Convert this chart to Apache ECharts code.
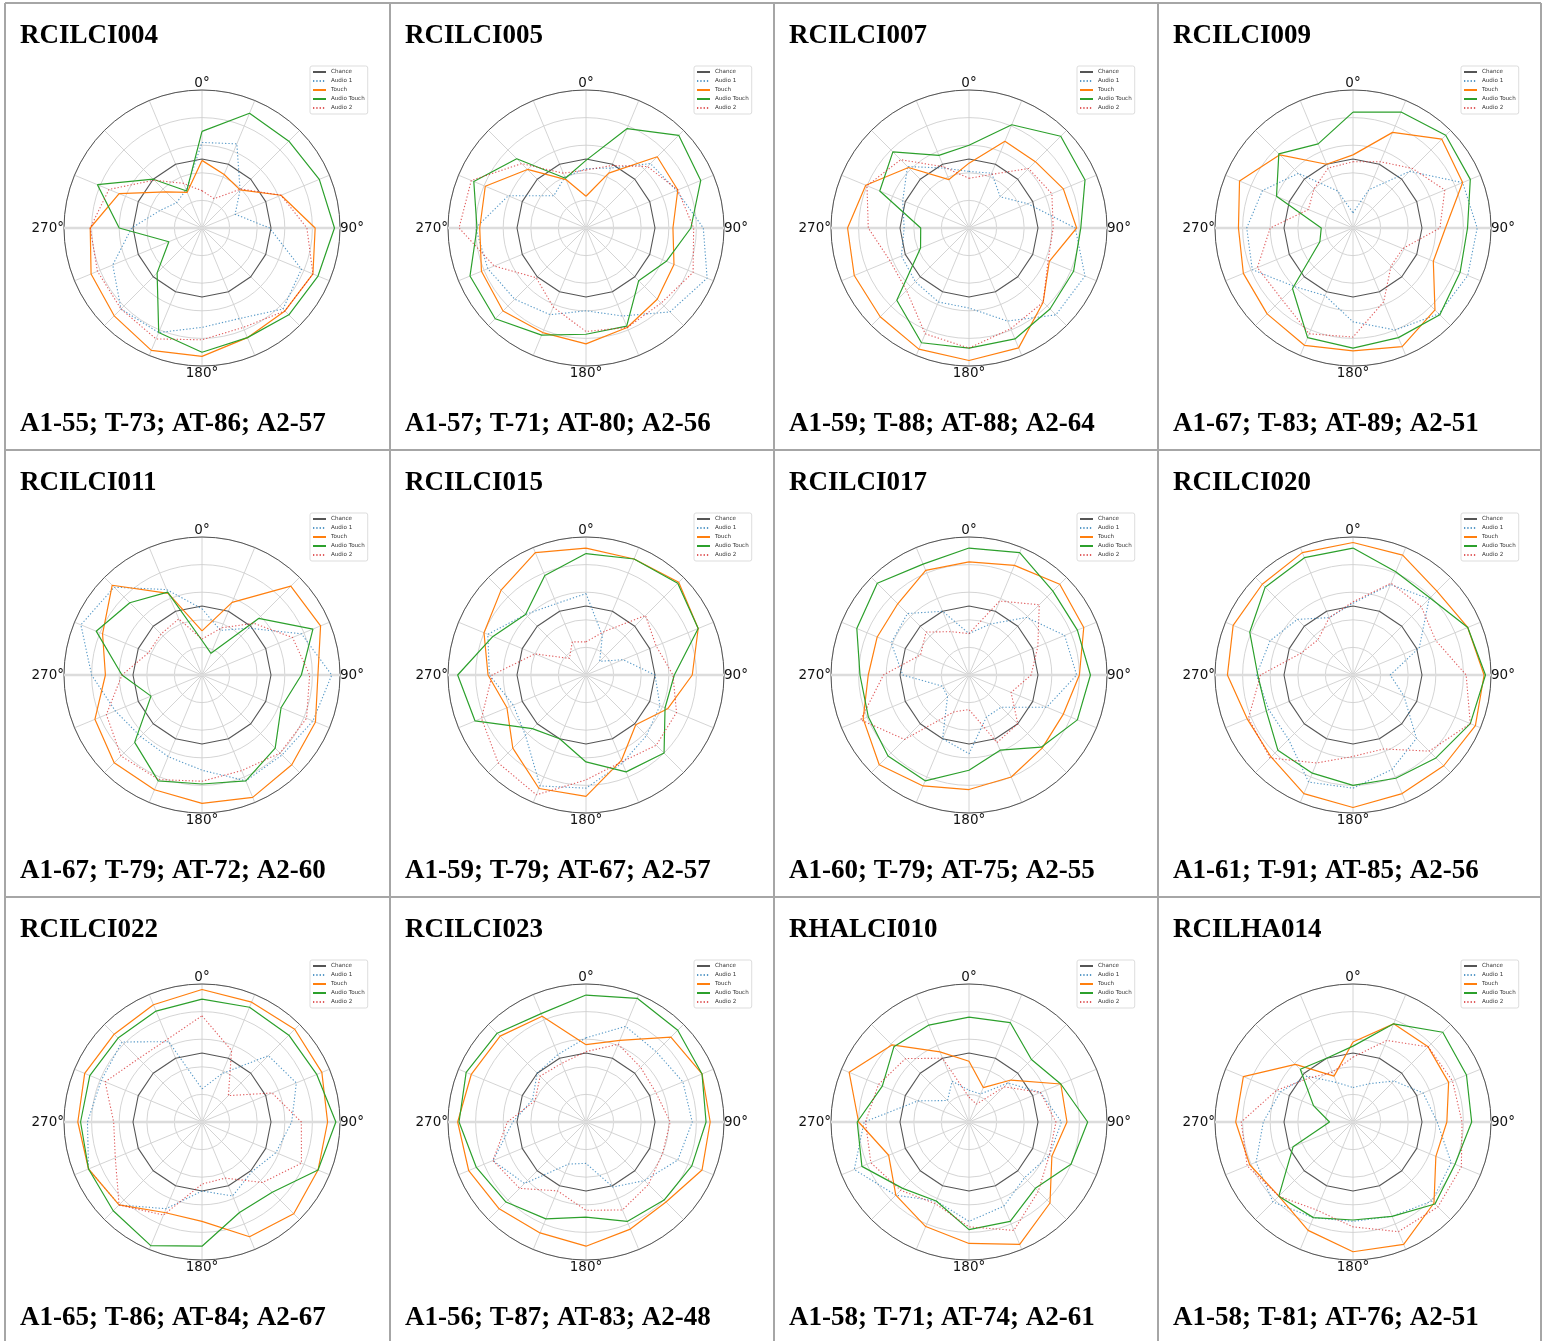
<!DOCTYPE html>
<html>
<head>
<meta charset="utf-8">
<script src="https://cdn.jsdelivr.net/npm/echarts@6/dist/echarts.min.js"></script>
<style>
html,body{margin:0;padding:0;background:#fff;}
#main{width:1545px;height:1341px;}
</style>
</head>
<body>
<div id="main"></div>
<script>
// ---- data ----
const angles = [0,22.5,45,67.5,90,112.5,135,157.5,180,202.5,225,247.5,270,292.5,315,337.5];
const angleTickLabels = ['0°','90°','180°','270°'];
const panelNames = ['RCILCI004','RCILCI005','RCILCI007','RCILCI009',
                    'RCILCI011','RCILCI015','RCILCI017','RCILCI020',
                    'RCILCI022','RCILCI023','RHALCI010','RCILHA014'];
const a1Score = [55,57,59,67,67,59,60,61,65,56,58,58];
const tScore  = [73,71,88,83,79,79,79,91,86,87,71,81];
const atScore = [86,80,88,89,72,67,75,85,84,83,74,76];
const a2Score = [57,56,64,51,60,57,55,56,67,48,61,51];
const seriesNames = ['Chance','Audio 1','Touch','Audio Touch','Audio 2'];

const chance = [0.5,0.5,0.5,0.5,0.5,0.5,0.5,0.5,0.5,0.5,0.5,0.5,0.5,0.5,0.5,0.5];

const audio1 = [
 [0.62,0.66,0.39,0.26,0.49,0.78,0.83,0.71,0.72,0.82,0.83,0.70,0.51,0.33,0.26,0.30],
 [0.43,0.47,0.66,0.71,0.85,0.95,0.86,0.69,0.60,0.68,0.73,0.77,0.80,0.61,0.33,0.40],
 [0.41,0.43,0.32,0.46,0.77,0.91,0.89,0.73,0.58,0.58,0.55,0.53,0.47,0.52,0.63,0.47],
 [0.11,0.30,0.58,0.86,0.90,0.90,0.88,0.80,0.68,0.53,0.60,0.79,0.77,0.71,0.56,0.29],
 [0.48,0.35,0.48,0.78,0.94,0.87,0.82,0.83,0.69,0.64,0.63,0.68,0.80,0.95,0.90,0.67],
 [0.59,0.31,0.14,0.29,0.50,0.58,0.62,0.69,0.82,0.87,0.62,0.57,0.70,0.77,0.62,0.56],
 [0.30,0.40,0.59,0.75,0.78,0.61,0.33,0.33,0.57,0.50,0.22,0.21,0.48,0.61,0.63,0.50],
 [0.52,0.71,0.78,0.52,0.27,0.40,0.65,0.74,0.82,0.84,0.66,0.66,0.70,0.65,0.57,0.45],
 [0.24,0.38,0.68,0.74,0.65,0.58,0.51,0.58,0.50,0.68,0.85,0.89,0.83,0.79,0.82,0.63],
 [0.61,0.75,0.72,0.76,0.77,0.72,0.60,0.51,0.30,0.33,0.63,0.73,0.53,0.42,0.50,0.53],
 [0.23,0.22,0.40,0.56,0.67,0.63,0.57,0.66,0.72,0.62,0.75,0.90,0.76,0.40,0.22,0.32],
 [0.25,0.30,0.42,0.55,0.61,0.77,0.81,0.74,0.72,0.75,0.82,0.76,0.65,0.57,0.47,0.31]
];
const touch = [
 [0.49,0.42,0.39,0.62,0.82,0.87,0.85,0.86,0.93,0.96,0.90,0.87,0.81,0.65,0.37,0.28],
 [0.23,0.43,0.73,0.72,0.63,0.69,0.73,0.78,0.84,0.82,0.85,0.82,0.77,0.79,0.60,0.38],
 [0.47,0.68,0.68,0.74,0.78,0.63,0.76,0.94,0.96,0.95,0.91,0.90,0.88,0.81,0.62,0.38],
 [0.53,0.75,0.91,0.86,0.67,0.63,0.84,0.93,0.89,0.92,0.88,0.86,0.83,0.89,0.75,0.50],
 [0.32,0.57,0.91,0.93,0.84,0.89,0.92,0.96,0.93,0.90,0.90,0.84,0.70,0.78,0.92,0.64],
 [0.92,0.91,0.95,0.88,0.77,0.64,0.51,0.67,0.88,0.89,0.75,0.62,0.71,0.80,0.87,0.96],
 [0.82,0.86,0.93,0.90,0.80,0.74,0.75,0.80,0.83,0.87,0.92,0.83,0.73,0.72,0.73,0.82],
 [0.96,0.94,0.86,0.90,0.95,0.96,0.93,0.93,0.96,0.93,0.84,0.83,0.91,0.94,0.93,0.96],
 [0.96,0.94,0.95,0.94,0.91,0.91,0.94,0.90,0.72,0.71,0.85,0.89,0.90,0.92,0.90,0.92],
 [0.56,0.64,0.87,0.91,0.90,0.91,0.82,0.84,0.90,0.87,0.89,0.92,0.93,0.90,0.88,0.83],
 [0.44,0.27,0.43,0.72,0.71,0.65,0.83,0.96,0.88,0.82,0.75,0.63,0.80,0.94,0.79,0.55],
 [0.58,0.77,0.77,0.75,0.68,0.65,0.83,0.96,0.94,0.85,0.76,0.81,0.85,0.86,0.59,0.36]
];
const audioTouch = [
 [0.70,0.90,0.89,0.92,0.96,0.91,0.89,0.86,0.90,0.82,0.46,0.26,0.60,0.82,0.50,0.29],
 [0.49,0.78,0.95,0.90,0.76,0.63,0.54,0.77,0.77,0.84,0.93,0.91,0.79,0.88,0.71,0.39],
 [0.60,0.81,0.94,0.91,0.81,0.82,0.83,0.87,0.87,0.90,0.74,0.38,0.35,0.70,0.78,0.57],
 [0.84,0.91,0.95,0.92,0.83,0.84,0.89,0.86,0.87,0.86,0.62,0.26,0.23,0.60,0.76,0.66],
 [0.25,0.17,0.58,0.87,0.72,0.62,0.75,0.83,0.79,0.83,0.69,0.40,0.58,0.83,0.74,0.65],
 [0.88,0.91,0.94,0.88,0.64,0.62,0.80,0.76,0.63,0.50,0.55,0.87,0.93,0.73,0.62,0.78],
 [0.92,0.96,0.86,0.85,0.88,0.85,0.74,0.59,0.69,0.83,0.83,0.79,0.79,0.88,0.94,0.87],
 [0.92,0.81,0.79,0.90,0.96,0.92,0.85,0.81,0.80,0.77,0.77,0.68,0.69,0.81,0.90,0.92],
 [0.89,0.90,0.89,0.90,0.97,0.91,0.72,0.71,0.90,0.97,0.91,0.89,0.88,0.88,0.86,0.87],
 [0.92,0.97,0.94,0.91,0.87,0.83,0.80,0.78,0.69,0.76,0.82,0.86,0.92,0.94,0.91,0.85],
 [0.76,0.78,0.64,0.72,0.86,0.80,0.68,0.78,0.78,0.62,0.68,0.84,0.81,0.68,0.77,0.76],
 [0.55,0.77,0.92,0.89,0.86,0.80,0.84,0.74,0.71,0.75,0.76,0.47,0.17,0.31,0.54,0.50]
];
const audio2 = [
 [0.27,0.23,0.40,0.62,0.76,0.87,0.85,0.78,0.81,0.87,0.83,0.82,0.81,0.73,0.49,0.35],
 [0.42,0.49,0.63,0.72,0.78,0.84,0.77,0.78,0.75,0.62,0.51,0.72,0.92,0.90,0.66,0.43],
 [0.36,0.42,0.61,0.65,0.61,0.62,0.76,0.79,0.87,0.83,0.64,0.62,0.73,0.80,0.70,0.48],
 [0.48,0.52,0.61,0.72,0.63,0.39,0.39,0.58,0.79,0.83,0.73,0.75,0.60,0.35,0.40,0.47],
 [0.26,0.37,0.53,0.71,0.78,0.82,0.80,0.75,0.77,0.82,0.83,0.75,0.58,0.42,0.42,0.44],
 [0.24,0.34,0.61,0.55,0.63,0.71,0.72,0.68,0.76,0.94,0.90,0.82,0.68,0.40,0.17,0.26],
 [0.30,0.58,0.72,0.54,0.45,0.33,0.50,0.53,0.25,0.29,0.66,0.85,0.62,0.38,0.44,0.34],
 [0.53,0.72,0.70,0.65,0.82,0.92,0.78,0.58,0.59,0.69,0.85,0.82,0.67,0.41,0.36,0.45],
 [0.77,0.56,0.27,0.55,0.72,0.78,0.62,0.44,0.45,0.73,0.85,0.68,0.64,0.76,0.65,0.65],
 [0.51,0.61,0.56,0.55,0.61,0.60,0.64,0.69,0.64,0.54,0.68,0.73,0.57,0.40,0.47,0.46],
 [0.18,0.14,0.36,0.56,0.63,0.63,0.71,0.85,0.76,0.64,0.70,0.77,0.75,0.71,0.65,0.50],
 [0.47,0.64,0.77,0.78,0.79,0.85,0.87,0.86,0.76,0.69,0.76,0.83,0.81,0.60,0.45,0.39]
];

// ---- layout ----
const colX = [202, 586, 969, 1353];
const rowY = [228, 675, 1122];
const cellLeft = [5, 390, 774, 1158];
const rowTop = [3, 450, 897];
const R = 138;

const styles = {
  'Chance':      {color:'#555555', type:'solid', width:1.1, opacity:1},
  'Audio 1':     {color:'#1f77b4', type:[1.3,2], width:1.1, opacity:0.75},
  'Touch':       {color:'#ff7f0e', type:'solid', width:1.2, opacity:1},
  'Audio Touch': {color:'#2ca02c', type:'solid', width:1.2, opacity:1},
  'Audio 2':     {color:'#d62728', type:[1.3,2], width:1.1, opacity:0.75}
};

function closed(vals){
  const d = angles.map((a,k)=>[vals[k], a]);
  d.push([vals[0], 360]);
  return d;
}

const polar=[], angleAxis=[], radiusAxis=[], series=[], legend=[], graphic=[];

for (let i=0;i<12;i++){
  const r = Math.floor(i/4), c = i%4;
  const cx = colX[c], cy = rowY[r];
  polar.push({center:[cx,cy], radius:R});
  angleAxis.push({
    polarIndex:i, type:'value', min:0, max:360, interval:22.5,
    startAngle:90, clockwise:true,
    axisLine:{show:true, lineStyle:{color:'#555', width:1}},
    axisTick:{show:false},
    axisLabel:{show:true, margin:0, fontSize:13.5, color:'#111', fontFamily:'DejaVu Sans',
      formatter:function(v){ const idx = [0,90,180,270].indexOf(v); return idx>=0 ? angleTickLabels[idx] : ''; }},
    splitLine:{show:true, lineStyle:{color:'#cfcfcf', width:0.9}}
  });
  radiusAxis.push({
    polarIndex:i, type:'value', min:0, max:1, interval:0.2,
    axisLine:{show:false}, axisTick:{show:false}, axisLabel:{show:false},
    splitLine:{show:true, lineStyle:{color:'#cfcfcf', width:0.9}}
  });
  const dataSets = [chance, audio1[i], touch[i], audioTouch[i], audio2[i]];
  seriesNames.forEach((nm, s)=>{
    const st = styles[nm];
    series.push({
      name:nm, type:'line', coordinateSystem:'polar', polarIndex:i,
      data: closed(dataSets[s]), symbol:'none', showSymbol:false, silent:true, animation:false,
      color: st.color,
      lineStyle:{color:st.color, type:st.type, width:st.width, opacity:st.opacity},
      z: 3 + s
    });
  });
  legend.push({
    data: seriesNames, orient:'vertical', left: cx+108, top: cy-162,
    itemWidth:13, itemHeight:6, itemGap:3, padding:[3,3,3,2],
    itemStyle:{opacity:0},
    textStyle:{fontSize:5.6, color:'#333', fontFamily:'DejaVu Sans'},
    borderColor:'#dddddd', borderWidth:1, borderRadius:2, backgroundColor:'#ffffff',
    selectedMode:false
  });
  // thicker horizontal reference line through 90/270
  graphic.push({type:'line', z:1, silent:true,
    shape:{x1:cx-R, y1:cy, x2:cx+R, y2:cy},
    style:{stroke:'#dcdcdc', lineWidth:2.5}});
  // titles
  const tx = cellLeft[c] + 15;
  graphic.push({type:'text', z:10, silent:true,
    style:{text: panelNames[i], x:tx, y: rowTop[r]+33, verticalAlign:'middle', align:'left',
      font:'bold 27px "Liberation Serif", "Times New Roman", serif', fill:'#000'}});
  graphic.push({type:'text', z:10, silent:true,
    style:{text: 'A1-' + a1Score[i] + '; T-' + tScore[i] + '; AT-' + atScore[i] + '; A2-' + a2Score[i],
      x:tx, y: rowTop[r]+421, verticalAlign:'middle', align:'left',
      font:'bold 27px "Liberation Serif", "Times New Roman", serif', fill:'#000'}});
}

// cell borders
[5, 390, 774, 1158, 1541].forEach(x=>{
  graphic.push({type:'line', z:0, silent:true, shape:{x1:x, y1:3, x2:x, y2:1341},
    style:{stroke:'#a6a6a6', lineWidth:2}});
});
[3, 450, 897].forEach(y=>{
  graphic.push({type:'line', z:0, silent:true, shape:{x1:5, y1:y, x2:1541, y2:y},
    style:{stroke:'#a6a6a6', lineWidth:2}});
});

const chart = echarts.init(document.getElementById('main'), null, {renderer:'canvas'});
chart.setOption({
  animation:false,
  backgroundColor:'#ffffff',
  polar, angleAxis, radiusAxis, legend, series,
  graphic: {elements: graphic}
});
</script>
</body>
</html>
